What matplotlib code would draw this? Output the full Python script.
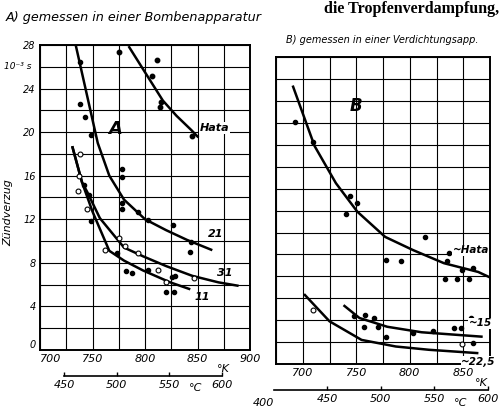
import matplotlib
matplotlib.use("Agg")
import matplotlib.pyplot as plt
import numpy as np

# ---------------- Panel A: gemessen in einer Bombenapparatur ----------------
a_c21_T = [734, 741, 748, 755, 766, 780, 800, 820, 840, 863]
a_c21_t = [28.0, 25.0, 22.0, 19.0, 16.0, 13.8, 12.0, 11.0, 10.1, 9.2]
a_hata_T = [785, 800, 817, 830, 844, 850]
a_hata_t = [27.8, 25.5, 22.9, 21.5, 20.2, 19.6]
a_c31_T = [731, 740, 745, 757, 780, 798, 820, 845, 870, 888]
a_c31_t = [18.6, 15.4, 14.5, 12.1, 9.4, 8.6, 7.7, 6.8, 6.2, 5.9]
a_c11_T = [731, 740, 750, 766, 780, 798, 824, 842]
a_c11_t = [18.6, 15.4, 12.7, 9.1, 8.2, 7.3, 6.2, 5.6]

a_hata_pts_T = [775, 811, 807, 815, 814, 845]
a_hata_pts_t = [27.4, 26.6, 25.2, 22.8, 22.3, 19.6]
a_21_pts_T = [738, 738, 743, 749, 778, 778, 778, 778, 793, 803, 827, 844, 843]
a_21_pts_t = [26.4, 22.6, 21.4, 19.7, 16.6, 15.9, 13.5, 12.9, 12.7, 11.9, 11.5, 9.9, 9.0]
a_open_T = [738, 737, 736, 745, 775, 781, 762, 793, 812, 820, 847]
a_open_t = [18.0, 16.0, 14.6, 12.9, 10.3, 9.5, 9.2, 8.9, 7.3, 6.2, 6.6]
a_fill_T = [742, 747, 749, 773, 782, 788, 803, 826, 829, 820, 828]
a_fill_t = [15.1, 14.2, 11.8, 8.9, 7.2, 7.1, 7.3, 6.7, 6.8, 5.3, 5.3]

# ---------------- Panel B: gemessen in einer Verdichtungsapp. ----------------
b_hata_T = [691, 711, 731, 751, 777, 803, 832, 864, 875]
b_hata_t = [25.3, 19.9, 16.5, 13.9, 11.6, 10.4, 9.2, 8.4, 7.9]
b_c15_T = [739, 753, 779, 811, 839, 867]
b_c15_t = [5.3, 4.2, 3.4, 2.9, 2.7, 2.5]
b_c225_T = [702, 725, 755, 787, 818, 863]
b_c225_t = [6.3, 3.9, 2.2, 1.6, 1.3, 1.0]

b_hata_pts_T = [693, 710, 744, 751, 740, 814, 778, 792, 835, 837, 849, 859, 833, 844, 855]
b_hata_pts_t = [22.1, 20.3, 15.3, 14.7, 13.7, 11.6, 9.5, 9.4, 9.4, 10.1, 8.6, 8.8, 7.8, 7.75, 7.8]
b_15_pts_T = [748, 758, 767, 757, 770, 778, 803, 822, 841, 848, 857, 859]
b_15_pts_t = [4.4, 4.5, 4.2, 3.4, 3.4, 2.5, 2.8, 3.0, 3.3, 3.3, 4.2, 1.9]
b_open_T = [710, 849]
b_open_t = [4.9, 1.8]

a_xticks = [700, 750, 800, 850, 900]
b_xticks = [700, 750, 800, 850]
a_cticks = [450, 500, 550, 600]
b_cticks = [450, 500, 550, 600]
yticks = [0, 4, 8, 12, 16, 20, 24, 28]

fig = plt.figure(figsize=(5, 4.17), dpi=100)
axA = fig.add_axes([0.08, 0.161, 0.42, 0.731])
axB = fig.add_axes([0.552, 0.127, 0.428, 0.736])

IT = dict(style='italic', family='DejaVu Sans')


def style(ax, xlo, xhi, xt, ylab):
    ax.set_xlim(xlo, xhi)
    ax.set_ylim(0, 28)
    ax.set_xticks(np.arange(xlo, xhi + 1, 25), minor=True)
    ax.set_yticks(np.arange(0, 29, 2), minor=True)
    ax.set_xticks(xt)
    ax.set_xticklabels([str(v) for v in xt], fontsize=8, style='italic')
    if ylab:
        ax.set_yticks(yticks)
        ax.set_yticklabels([str(v) for v in yticks], fontsize=7, style='italic')
    else:
        ax.set_yticks([])
    ax.grid(True, which='both', color='black', linewidth=0.8)
    ax.tick_params(which='both', length=0, pad=3)
    for s in ax.spines.values():
        s.set_linewidth(1.4)
    ax.set_axisbelow(True)


style(axA, 700, 900, a_xticks, True)
style(axB, 675, 875, b_xticks, False)
# avoid the clash of "0" and "700" at the lower-left corner
axA.get_yticklabels()[0].set_va('bottom')
axA.get_xticklabels()[0].set_ha('left')

LW = 1.8
# panel A curves
axA.plot(a_c21_T, a_c21_t, color='black', lw=LW)
axA.plot(a_hata_T, a_hata_t, color='black', lw=LW)
axA.plot(a_c31_T, a_c31_t, color='black', lw=LW)
axA.plot(a_c11_T, a_c11_t, color='black', lw=LW)
axA.plot(a_hata_pts_T, a_hata_pts_t, 'o', color='black', ms=3.2)
axA.plot(a_21_pts_T, a_21_pts_t, 'o', color='black', ms=3.0)
axA.plot(a_fill_T, a_fill_t, 'o', color='black', ms=3.0)
axA.plot(a_open_T, a_open_t, 'o', mfc='white', mec='black', mew=0.8, ms=3.5)

# panel B curves
axB.plot(b_hata_T, b_hata_t, color='black', lw=LW)
axB.plot(b_c15_T, b_c15_t, color='black', lw=LW)
axB.plot(b_c225_T, b_c225_t, color='black', lw=LW)
axB.plot(b_hata_pts_T, b_hata_pts_t, 'o', color='black', ms=3.0)
axB.plot(b_15_pts_T, b_15_pts_t, 'o', color='black', ms=3.0)
axB.plot(b_open_T, b_open_t, 'o', mfc='white', mec='black', mew=0.8, ms=3.5)

# labels in panel A
axA.text(772, 20.3, 'A', fontsize=13, weight='bold', ha='center', va='center', **IT)
axA.text(866, 20.4, 'Hata', fontsize=8, weight='bold', ha='center', va='center',
         bbox=dict(fc='white', ec='none', pad=0.6), **IT)
axA.text(867, 10.6, '21', fontsize=8, weight='bold', ha='center', va='center', **IT)
axA.text(876, 7.1, '31', fontsize=8, weight='bold', ha='center', va='center', **IT)
axA.text(855, 4.9, '11', fontsize=8, weight='bold', ha='center', va='center', **IT)

# labels in panel B
axB.text(750, 23.5, 'B', fontsize=12, weight='bold', ha='center', va='center', **IT)
axB.text(857, 10.4, '~Hata', fontsize=7.5, weight='bold', ha='center', va='center',
         bbox=dict(fc='white', ec='none', pad=0.4), **IT)
axB.text(866, 3.7, '~15', fontsize=7.5, weight='bold', ha='center', va='center',
         bbox=dict(fc='white', ec='none', pad=0.3), **IT)
axB.text(864, 0.2, '~22,5', fontsize=7.5, weight='bold', ha='center', va='center',
         bbox=dict(fc='white', ec='none', pad=0.3), **IT)

# °K markers
axA.text(875, -0.045, '°K', transform=axA.get_xaxis_transform(), fontsize=8,
         ha='center', va='top', **IT)
axB.text(867, -0.045, '°K', transform=axB.get_xaxis_transform(), fontsize=8,
         ha='center', va='top', **IT)

# °C scales
for ax, loc, ct, lo in [(axA, -0.085, a_cticks, 450), (axB, -0.085, b_cticks, 400)]:
    sec = ax.secondary_xaxis(loc, functions=(lambda k: k - 273, lambda c: c + 273))
    sec.set_xticks(ct)
    sec.set_xticklabels([str(v) for v in ct], fontsize=8, style='italic')
    sec.spines['bottom'].set_bounds(lo, 600)
    sec.spines['bottom'].set_linewidth(1.2)
    sec.tick_params(direction='in', length=3, width=1.0, pad=3)
    ax.text(575 + 273, loc - 0.025, '°C', transform=ax.get_xaxis_transform(),
            fontsize=8, ha='center', va='top', **IT)
axB.text(673, -0.11, '400', transform=axB.get_xaxis_transform(), fontsize=8,
         ha='right', va='top', **IT)

# axis labels
axA.text(-0.15, 0.45, 'Zündverzug', rotation=90, transform=axA.transAxes,
         fontsize=8, ha='center', va='center', **IT)
axA.text(-0.04, 26.0, '10⁻³ s', transform=axA.get_yaxis_transform(),
         fontsize=6.5, ha='right', va='center', **IT)

# titles
fig.text(0.012, 0.957, 'A) gemessen in einer Bombenapparatur', fontsize=9.2,
         ha='left', va='center', **IT)
fig.text(0.572, 0.905, 'B) gemessen in einer Verdichtungsapp.', fontsize=7,
         ha='left', va='center', **IT)
fig.text(0.998, 0.997, 'die Tropfenverdampfung,', fontsize=11.5, weight='bold',
         family='Liberation Serif', ha='right', va='top')

fig.savefig('out.png', dpi=100)
